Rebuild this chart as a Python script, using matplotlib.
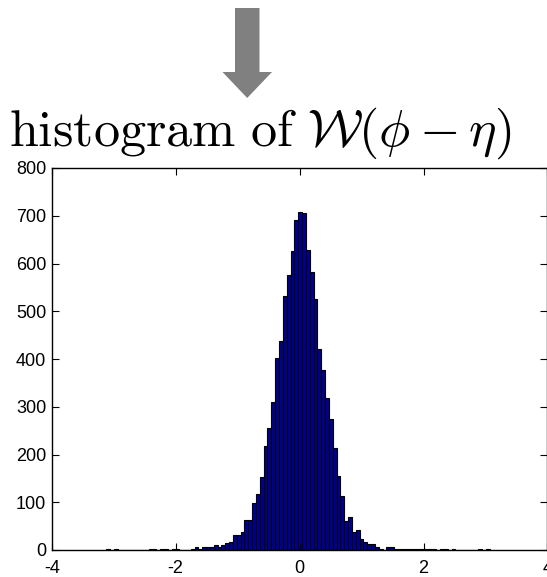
import numpy as np
import matplotlib
matplotlib.use("Agg")
import matplotlib.pyplot as plt
from matplotlib.patches import Polygon

plt.rcParams['font.family'] = ['Liberation Sans', 'DejaVu Sans']
plt.rcParams['mathtext.fontset'] = 'cm'
plt.rcParams['axes.unicode_minus'] = False

# histogram data (100 bins)
bin_lo = -3.118
bin_hi = 3.072
counts = [2, 0, 2, 1, 0, 0, 0, 0, 0, 0,
          0, 2, 2, 1, 2, 3, 1, 2, 2, 0,
          0, 1, 3, 6, 3, 6, 6, 7, 10, 6,
          10, 15, 16, 32, 32, 38, 63, 63, 98, 117,
          152, 217, 255, 309, 402, 437, 532, 576, 627, 692,
          708, 705, 629, 582, 526, 421, 377, 318, 274, 214,
          155, 114, 61, 70, 38, 42, 22, 17, 13, 13,
          7, 2, 1, 7, 7, 3, 3, 2, 3, 2,
          3, 2, 3, 2, 2, 2, 0, 2, 2, 0,
          2, 0, 0, 0, 0, 0, 0, 2, 1, 2]
xticks = [-4, -2, 0, 2, 4]
yticks = [0, 100, 200, 300, 400, 500, 600, 700, 800]
title = r'$\mathrm{histogram\ of\ }\mathcal{W}(\phi - \eta)$'

counts = np.array(counts)
edges = np.linspace(bin_lo, bin_hi, len(counts) + 1)
centers = (edges[:-1] + edges[1:]) / 2
binw = edges[1] - edges[0]

W, H = 547, 577
fig = plt.figure(figsize=(W / 100, H / 100), dpi=100)
ax = fig.add_axes([51.7 / W, 27 / H, (547.5 - 51.7) / W, (550 - 168) / H])
ax.bar(centers, counts, width=binw, facecolor='#000090', edgecolor='black',
       linewidth=0.8, align='center')
ax.set_xlim(-4, 4)
ax.set_ylim(0, 800)
ax.set_xticks(xticks)
ax.set_yticks(yticks)
ax.tick_params(direction='in', length=5, width=0.8, labelsize=13,
               top=True, right=True)
ax.tick_params(axis='x', pad=7)
ax.tick_params(axis='y', pad=4)
for s in ax.spines.values():
    s.set_linewidth(1.0)

# arrow
def fx(px):
    return px / W

def fy(py):
    return 1 - py / H

arrow = Polygon([(fx(235), fy(8)), (fx(259.5), fy(8)), (fx(259.5), fy(72)),
                 (fx(272), fy(72)), (fx(247.2), fy(98)), (fx(222.5), fy(72)),
                 (fx(235), fy(72))], closed=True, transform=fig.transFigure,
                facecolor='#808080', edgecolor='none')
fig.add_artist(arrow)

fig.text(260 / W, fy(146), title, fontsize=37.5, ha='center', va='baseline')

fig.savefig('out.png', dpi=100)
